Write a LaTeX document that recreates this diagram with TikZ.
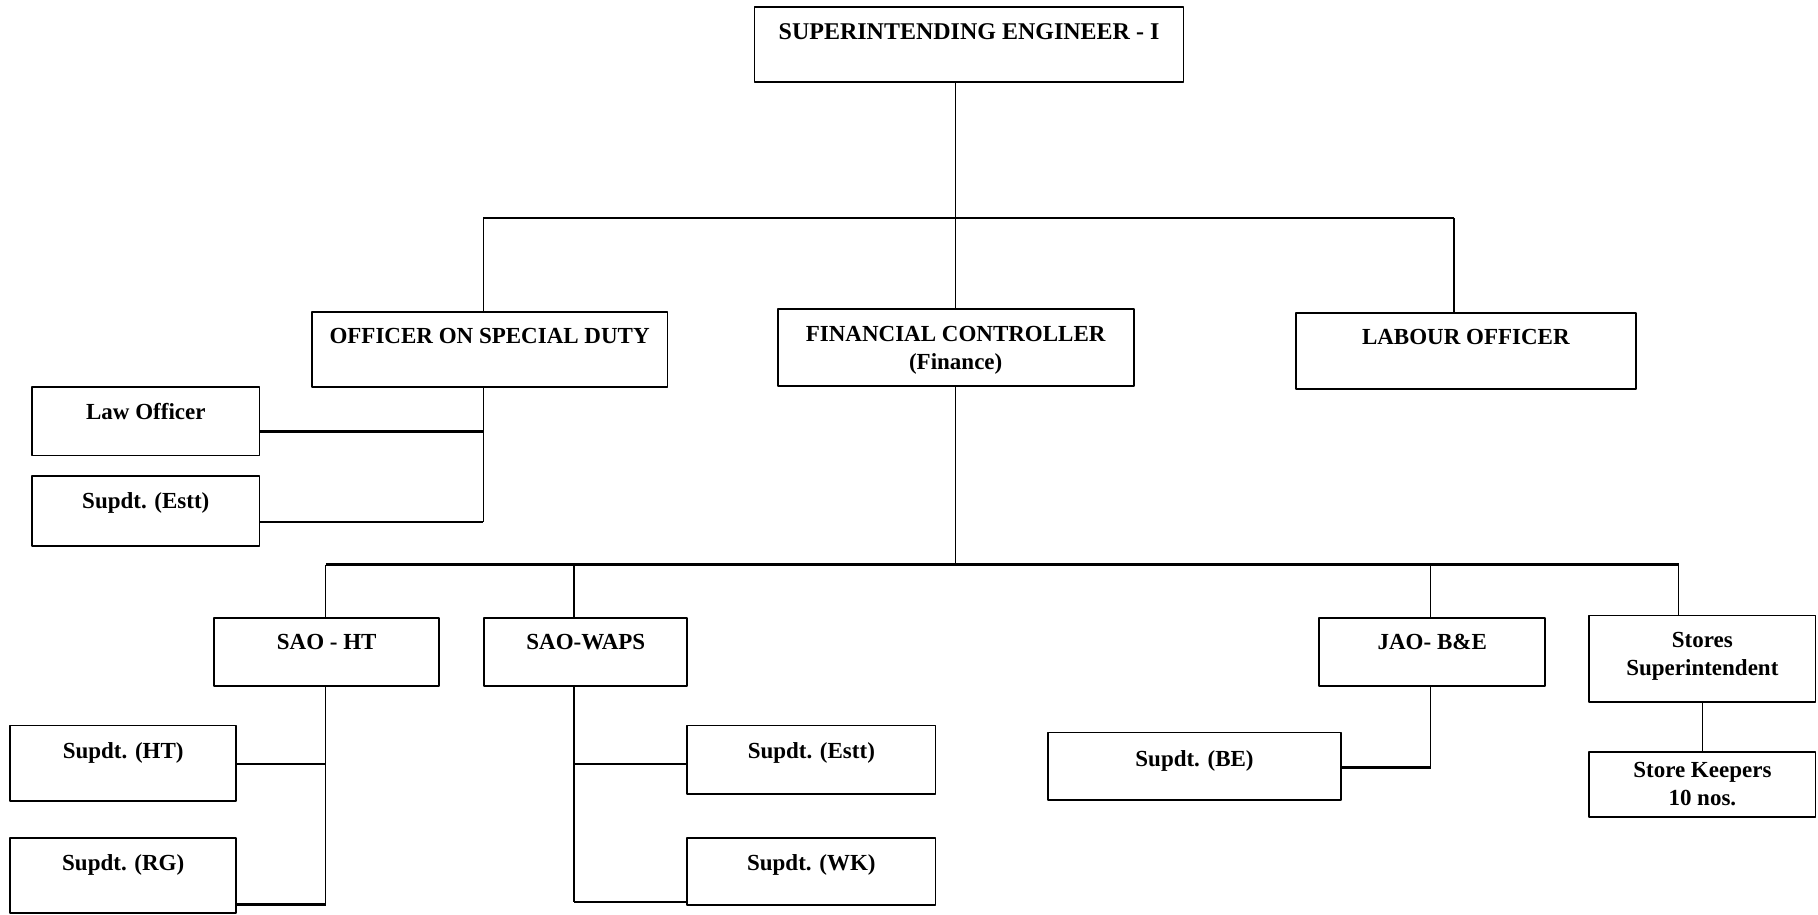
\documentclass[tikz,border=0pt]{standalone}
\usepackage{fontspec}
\setmainfont{Liberation Serif}
\newdimen\ux \ux=0.5797pt
\begin{document}
\begin{tikzpicture}[x=\ux,y=-\ux,line join=round,
  post/.style 2 args={draw,line width=.9pt,anchor=north west,inner sep=0pt,
    minimum width=#1*\ux,minimum height=#2*\ux},
  lbl/.style={anchor=north,yshift=-8.5pt,inner sep=0pt,align=center,
    font=\fontsize{11.5}{14}\selectfont\bfseries},
  link/.style={line width=.6pt},
  bar/.style={line width=1.2pt}]
  \useasboundingbox (0,0) rectangle (1568,789);
  \node[post={370}{65},label={[lbl,font=\fontsize{12}{14}\selectfont\bfseries]north:SUPERINTENDING ENGINEER - I}] (se) at (650,5) {};
  \node[post={307}{65},label={[lbl]north:OFFICER ON SPECIAL DUTY}] (osd) at (268,268) {};
  \node[post={307}{66},label={[lbl]north:FINANCIAL CONTROLLER\\(Finance)}] (fc) at (670,266) {};
  \node[post={293}{66},label={[lbl]north:LABOUR OFFICER}] (lo) at (1117,269) {};
  \node[post={196}{59},label={[lbl]north:Law Officer}] (law) at (27,333) {};
  \node[post={196}{60},label={[lbl]north:Supdt. (Estt)}] (estA) at (27,410) {};
  \node[post={194}{59},label={[lbl]north:SAO - HT}] (saoht) at (184,532) {};
  \node[post={175}{59},label={[lbl]north:SAO-WAPS}] (saowaps) at (417,532) {};
  \node[post={195}{59},label={[lbl]north:JAO- B\&E}] (jao) at (1137,532) {};
  \node[post={195}{75},label={[lbl]north:Stores\\Superintendent}] (stores) at (1370,530) {};
  \node[post={195}{65},label={[lbl]north:Supdt. (HT)}] (ht) at (8,625) {};
  \node[post={195}{65},label={[lbl]north:Supdt. (RG)}] (rg) at (8,722) {};
  \node[post={214}{59},label={[lbl]north:Supdt. (Estt)}] (estB) at (592,625) {};
  \node[post={214}{58},label={[lbl]north:Supdt. (WK)}] (wk) at (592,722) {};
  \node[post={253}{58},label={[lbl,yshift=-1pt]north:Supdt. (BE)}] (be) at (903,631) {};
  \node[post={195}{56},label={[lbl,yshift=3pt]north:Store Keepers\\10 nos.}] (keep) at (1370,648) {};
  \coordinate (b1) at (417,188);
  \coordinate (b2) at (1254,188);
  \coordinate (o1) at (417,372);
  \coordinate (o2) at (417,450);
  \coordinate (c1) at (281,487);
  \coordinate (c2) at (1448,487);
  \coordinate (c3) at (495,487);
  \coordinate (c4) at (1234,487);
  \coordinate (h1) at (281,659);
  \coordinate (h2) at (281,780);
  \coordinate (w1) at (495,659);
  \coordinate (w2) at (495,778);
  \coordinate (j1) at (1234,662);
  \draw[link] (se.south -| fc.north) -- (fc.north);
  \draw[bar] (b1) -- (b2);
  \draw[link] (b1) -- (b1 |- osd.north);
  \draw[link] (b2) -- (b2 |- lo.north);
  \draw[link] (o1 |- osd.south) -- (o2);
  \draw[bar] (law.east |- o1) -- (o1);
  \draw[bar] (estA.east |- o2) -- (o2);
  \draw[link] (fc.south) -- (fc.south |- c1);
  \draw[bar] (c1) -- (c2);
  \draw[link] (c1) -- (c1 |- saoht.north);
  \draw[link] (c3) -- (c3 |- saowaps.north);
  \draw[link] (c4) -- (c4 |- jao.north);
  \draw[link] (c2) -- (c2 |- stores.north);
  \draw[link] (h1 |- saoht.south) -- (h2);
  \draw[bar] (ht.east |- h1) -- (h1);
  \draw[bar] (rg.east |- h2) -- (h2);
  \draw[link] (w1 |- saowaps.south) -- (w2);
  \draw[bar] (w1) -- (estB.west |- w1);
  \draw[bar] (w2) -- (wk.west |- w2);
  \draw[link] (j1 |- jao.south) -- (j1);
  \draw[bar] (be.east |- j1) -- (j1);
  \draw[link] (stores.south) -- (keep.north);
\end{tikzpicture}
\end{document}
